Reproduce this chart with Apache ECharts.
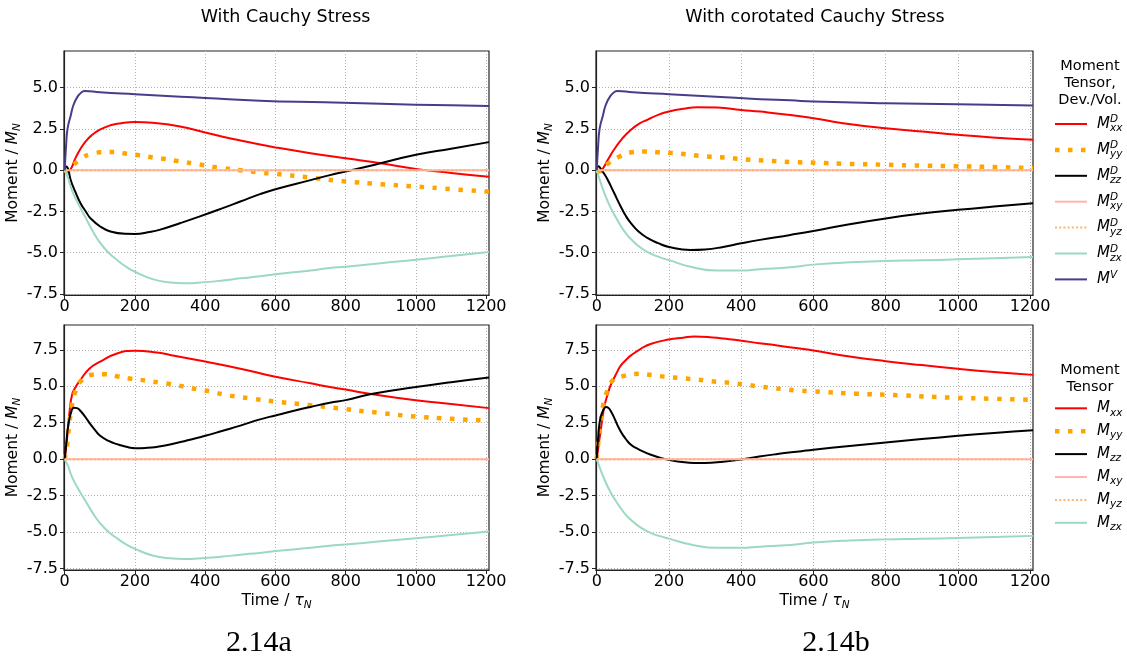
<!DOCTYPE html>
<html><head><meta charset="utf-8">
<script src="https://cdn.jsdelivr.net/npm/echarts@6/dist/echarts.min.js"></script>
<style>html,body{margin:0;padding:0;background:#fff}#c{width:1127px;height:660px}</style>
</head><body><div id="c"></div><script>
// ---------- tick labels ----------
const TIME_TICKS = [0, 200, 400, 600, 800, 1000, 1200];
const Y_TICKS_TOP = [-7.5, -5, -2.5, 0, 2.5, 5];
const Y_TICKS_BOTTOM = [-7.5, -5, -2.5, 0, 2.5, 5, 7.5];

// ---------- categories / names ----------
const PANEL_TITLES = ['With Cauchy Stress', 'With corotated Cauchy Stress'];
const CAPTIONS = ['2.14a', '2.14b'];
const DEV_NAMES = ['MxxD', 'MyyD', 'MzzD', 'MxyD', 'MyzD', 'MzxD', 'MV'];
const FULL_NAMES = ['Mxx', 'Myy', 'Mzz', 'Mxy', 'Myz', 'Mzx'];
const DEV_LABELS = ['{m|M}{p|D}{b|xx}', '{m|M}{p|D}{b|yy}', '{m|M}{p|D}{b|zz}', '{m|M}{p|D}{b|xy}', '{m|M}{p|D}{b|yz}', '{m|M}{p|D}{b|zx}', '{m|M}{q|V}'];
const FULL_LABELS = ['{m|M}{b|xx}', '{m|M}{b|yy}', '{m|M}{b|zz}', '{m|M}{b|xy}', '{m|M}{b|yz}', '{m|M}{b|zx}'];
const DEV_LEGEND_TITLE = 'Moment\nTensor,\nDev./Vol.';
const FULL_LEGEND_TITLE = 'Moment\nTensor';

// ---------- series values [time, moment] ----------
// Top-left: Cauchy, deviatoric / volumetric
const cauchyDevMxx = [[0,0],[8,-0.1],[17,0.05],[30,0.7],[45,1.3],[60,1.75],[75,2.08],[100,2.45],[130,2.72],[160,2.85],[200,2.92],[250,2.88],[300,2.75],[350,2.55],[400,2.28],[450,2.03],[500,1.8],[556,1.56],[600,1.38],[700,1.03],[800,0.72],[900,0.42],[1000,0.08],[1100,-0.17],[1208,-0.4]];
const cauchyDevMyy = [[0,0],[8,-0.08],[20,0.22],[38,0.56],[55,0.82],[70,0.95],[100,1.08],[140,1.1],[177,1.0],[212,0.9],[250,0.77],[285,0.68],[320,0.56],[385,0.34],[450,0.12],[500,0.0],[556,-0.14],[600,-0.22],[700,-0.45],[770,-0.62],[800,-0.68],[900,-0.85],[1000,-0.99],[1100,-1.15],[1208,-1.3]];
const cauchyDevMzz = [[0,0],[5,0.22],[10,0.05],[17,-0.59],[30,-1.3],[45,-2.0],[60,-2.5],[73,-2.9],[101,-3.41],[130,-3.71],[172,-3.85],[201,-3.86],[240,-3.75],[272,-3.6],[330,-3.2],[385,-2.8],[450,-2.3],[500,-1.9],[556,-1.45],[600,-1.15],[700,-0.6],[755,-0.3],[800,-0.08],[880,0.32],[1000,0.93],[1100,1.3],[1208,1.7]];
const cauchyMzx = [[0,0],[10,-0.5],[17,-0.99],[26,-1.49],[45,-2.3],[60,-2.9],[80,-3.7],[101,-4.4],[125,-5.0],[150,-5.45],[175,-5.85],[200,-6.15],[250,-6.6],[300,-6.8],[340,-6.85],[400,-6.78],[450,-6.68],[500,-6.55],[556,-6.43],[600,-6.3],[700,-6.08],[755,-5.93],[800,-5.85],[900,-5.63],[1000,-5.43],[1100,-5.2],[1208,-4.96]];
const cauchyMV = [[0,0],[4,1.5],[8,2.5],[17,3.3],[25,3.95],[38,4.5],[50,4.75],[57,4.8],[100,4.72],[200,4.6],[330,4.45],[400,4.38],[556,4.21],[740,4.11],[900,4.02],[1000,3.97],[1100,3.93],[1208,3.89]];
// Top-right: corotated Cauchy, deviatoric / volumetric
const corotDevMxx = [[0,0],[8,-0.1],[17,0.1],[30,0.6],[48,1.25],[70,1.9],[94,2.44],[120,2.85],[140,3.05],[170,3.35],[200,3.55],[240,3.72],[279,3.82],[334,3.8],[400,3.65],[452,3.55],[536,3.35],[600,3.15],[682,2.85],[800,2.54],[902,2.34],[1000,2.14],[1095,1.98],[1208,1.84]];
const corotDevMyy = [[0,0],[8,-0.08],[15,0.1],[30,0.38],[62,0.82],[98,1.09],[135,1.13],[172,1.08],[209,1.04],[246,0.97],[282,0.88],[315,0.82],[352,0.77],[389,0.7],[425,0.63],[462,0.58],[536,0.5],[605,0.45],[700,0.38],[800,0.33],[900,0.28],[1000,0.24],[1100,0.19],[1208,0.13]];
const corotDevMzz = [[0,0],[5,0.24],[12,0.05],[20,-0.2],[30,-0.56],[48,-1.37],[66,-2.18],[80,-2.75],[94,-3.19],[115,-3.7],[140,-4.1],[170,-4.42],[200,-4.65],[260,-4.83],[300,-4.8],[350,-4.65],[400,-4.43],[452,-4.22],[536,-3.92],[600,-3.68],[700,-3.27],[800,-2.92],[900,-2.63],[1000,-2.4],[1100,-2.2],[1208,-2.0]];
const corotMzx = [[0,0],[11,-0.75],[25,-1.6],[39,-2.3],[50,-2.75],[66,-3.35],[80,-3.8],[94,-4.15],[122,-4.7],[149,-5.05],[175,-5.28],[200,-5.45],[260,-5.85],[334,-6.08],[400,-6.08],[452,-6.0],[536,-5.88],[600,-5.72],[700,-5.58],[800,-5.5],[900,-5.46],[1000,-5.4],[1100,-5.33],[1208,-5.26]];
const corotMV = [[0,0],[4,1.5],[8,2.5],[17,3.3],[25,3.95],[38,4.5],[50,4.75],[57,4.8],[100,4.72],[200,4.6],[330,4.45],[452,4.3],[536,4.23],[600,4.16],[800,4.06],[1000,4.0],[1208,3.92]];
// Bottom-left: Cauchy, full tensor
const cauchyMxx = [[0,0],[7,1.5],[14,3.3],[21,4.42],[30,4.9],[45,5.44],[70,6.2],[101,6.69],[149,7.25],[201,7.44],[262,7.32],[300,7.15],[400,6.69],[500,6.2],[556,5.89],[600,5.65],[700,5.2],[755,4.95],[800,4.77],[877,4.45],[1000,4.04],[1100,3.78],[1208,3.5]];
const cauchyMyy = [[0,0],[7,1.0],[14,2.6],[21,3.74],[30,4.6],[45,5.33],[78,5.79],[114,5.83],[151,5.67],[189,5.51],[229,5.4],[267,5.26],[300,5.15],[338,4.99],[376,4.8],[412,4.65],[450,4.45],[485,4.3],[523,4.18],[600,3.95],[700,3.7],[777,3.49],[891,3.19],[1000,2.92],[1100,2.77],[1208,2.64]];
const cauchyMzz = [[0,0],[5,1.2],[10,2.3],[18,3.2],[26,3.53],[35,3.5],[45,3.3],[60,2.85],[73,2.4],[87,1.98],[101,1.6],[125,1.25],[149,1.03],[175,0.85],[201,0.75],[230,0.77],[262,0.84],[300,1.0],[350,1.3],[400,1.6],[450,1.95],[500,2.3],[556,2.73],[600,3.0],[650,3.3],[700,3.58],[755,3.87],[800,4.05],[877,4.49],[1000,4.95],[1100,5.28],[1208,5.6]];
// Bottom-right: corotated Cauchy, full tensor
const corotMxx = [[0,0],[5,0.9],[11,1.98],[20,3.5],[25,4.0],[34,4.75],[39,5.1],[57,6.0],[66,6.4],[85,6.9],[94,7.1],[122,7.57],[149,7.9],[199,8.2],[240,8.33],[270,8.41],[307,8.38],[350,8.27],[397,8.14],[450,7.95],[500,7.8],[567,7.57],[600,7.45],[700,7.04],[800,6.72],[900,6.45],[1000,6.2],[1100,5.98],[1208,5.78]];
const corotMyy = [[0,0],[4,1.05],[11,2.4],[18,3.74],[28,4.6],[44,5.38],[78,5.73],[115,5.85],[152,5.77],[187,5.66],[224,5.58],[261,5.5],[298,5.41],[332,5.31],[368,5.24],[405,5.13],[442,5.01],[477,4.9],[513,4.81],[548,4.72],[600,4.65],[717,4.49],[838,4.38],[980,4.22],[1100,4.14],[1208,4.07]];
const corotMzz = [[0,0],[5,1.8],[11,2.9],[20,3.45],[26,3.58],[33,3.5],[40,3.25],[50,2.75],[60,2.2],[70,1.75],[80,1.4],[94,1.0],[110,0.75],[122,0.6],[150,0.3],[175,0.1],[200,-0.05],[230,-0.17],[270,-0.26],[300,-0.26],[350,-0.17],[400,-0.02],[450,0.18],[500,0.35],[567,0.55],[600,0.65],[700,0.91],[800,1.14],[900,1.38],[1000,1.6],[1100,1.8],[1208,1.98]];
// Off-diagonal xy / yz components (zero throughout)
const zeroMxy = [[0,0],[1208,0]];
const zeroMyz = [[0,0],[1208,0]];

// ---------- styles ----------
const FONT = 'DejaVu Sans';
const STYLES = [
  {color:'#ff0000', width:2},
  {color:'#ffa500', width:4.5, type:[4.5,8.5]},
  {color:'#000000', width:2},
  {color:'#ffb3b3', width:2},
  {color:'#ffb46e', width:2, type:[2,2.2]},
  {color:'#9dd9bf', width:2},
  {color:'#483d8b', width:2}
];

const panelData = [
  [cauchyDevMxx, cauchyDevMyy, cauchyDevMzz, zeroMxy, zeroMyz, cauchyMzx, cauchyMV],
  [corotDevMxx, corotDevMyy, corotDevMzz, zeroMxy, zeroMyz, corotMzx, corotMV],
  [cauchyMxx, cauchyMyy, cauchyMzz, zeroMxy, zeroMyz, cauchyMzx],
  [corotMxx, corotMyy, corotMzz, zeroMxy, zeroMyz, corotMzx]
];
const panelNames = [DEV_NAMES, DEV_NAMES, FULL_NAMES, FULL_NAMES];

const grids = [
  {left:64, top:51, width:425, height:244},
  {left:596, top:51, width:437, height:244},
  {left:64, top:325, width:425, height:245},
  {left:596, top:325, width:437, height:245}
];
const yRanges = [[-7.56, 7.22], [-7.56, 7.22], [-7.6, 9.2], [-7.6, 9.2]];

const axisLineStyle = {color:'#222', width:1.2};
const splitStyle = {color:'#b4b4b4', width:1, type:[1,2]};

const nameRich = {
  n:{fontFamily:FONT, fontSize:15.5, color:'#000', lineHeight:20},
  i:{fontFamily:FONT, fontSize:15.5, fontStyle:'italic', color:'#000', lineHeight:20},
  s:{fontFamily:FONT, fontSize:10.5, fontStyle:'italic', color:'#000', lineHeight:12, verticalAlign:'bottom'}
};

const xAxes = grids.map((g, i) => ({
  type:'value', gridIndex:i, min:-2, max:1208,
  name: i >= 2 ? '{n|Time / }{i|τ}{s|N}' : '',
  nameLocation:'middle', nameGap:21,
  nameTextStyle:{rich:nameRich},
  axisLine:{show:true, onZero:false, lineStyle:axisLineStyle},
  axisTick:{show:true, length:4, customValues:TIME_TICKS, lineStyle:{color:'#222', width:1}},
  axisLabel:{customValues:TIME_TICKS, fontFamily:FONT, fontSize:16, color:'#000', margin:4, formatter:v => String(v)},
  splitLine:{show:true, lineStyle:splitStyle}
}));
const yAxes = grids.map((g, i) => {
  const ticks = i >= 2 ? Y_TICKS_BOTTOM : Y_TICKS_TOP;
  return {
    type:'value', gridIndex:i, min:yRanges[i][0], max:yRanges[i][1],
    name:'{n|Moment / }{i|M}{s|N}', nameLocation:'middle', nameGap:35, nameRotate:90,
    nameTextStyle:{rich:nameRich},
    axisLine:{show:true, onZero:false, lineStyle:axisLineStyle},
    axisTick:{show:true, length:4, customValues:ticks, lineStyle:{color:'#222', width:1}},
    axisLabel:{customValues:ticks, fontFamily:FONT, fontSize:16, color:'#000', margin:6, formatter:v => v.toFixed(1)},
    splitLine:{show:true, lineStyle:splitStyle}
  };
});

const series = [];
panelData.forEach((list, p) => {
  list.forEach((d, k) => {
    const st = STYLES[k];
    series.push({
      type:'line', name:panelNames[p][k], xAxisIndex:p, yAxisIndex:p,
      data:d, symbol:'none', smooth:0.5, silent:true, animation:false,
      lineStyle:{color:st.color, width:st.width, type:st.type || 'solid', cap:'butt', join:'round'},
      itemStyle:{color:st.color}
    });
  });
});

// ---------- legends (drawn as graphics) ----------
const legendRich = {
  m:{fontFamily:FONT, fontSize:15, fontStyle:'italic', color:'#000', lineHeight:20},
  p:{fontFamily:FONT, fontSize:10.5, fontStyle:'italic', color:'#000', lineHeight:11, verticalAlign:'top', width:0},
  q:{fontFamily:FONT, fontSize:10.5, fontStyle:'italic', color:'#000', lineHeight:11, verticalAlign:'top'},
  b:{fontFamily:FONT, fontSize:10.5, fontStyle:'italic', color:'#000', lineHeight:11, verticalAlign:'bottom'}
};
const graphics = [];
function addLegend(title, titleTop, labels, firstY, pitch) {
  graphics.push({type:'text', x:1090, y:titleTop, silent:true,
    style:{text:title, fill:'#000', font:'14.5px "DejaVu Sans"', align:'center', verticalAlign:'top', lineHeight:17}});
  labels.forEach((lab, k) => {
    const st = STYLES[k];
    const y = firstY + k * pitch;
    graphics.push({type:'line', silent:true, shape:{x1:1055, y1:y, x2:1087, y2:y},
      style:{stroke:st.color, lineWidth:st.width, lineDash:st.type || null, lineCap:'butt'}});
    graphics.push({type:'text', x:1097, y:y, silent:true,
      style:{text:lab, rich:legendRich, fill:'#000', align:'left', verticalAlign:'middle'}});
  });
}
addLegend(DEV_LEGEND_TITLE, 58, DEV_LABELS, 124, 25.9);
addLegend(FULL_LEGEND_TITLE, 362, FULL_LABELS, 408.3, 22.9);

const chart = echarts.init(document.getElementById('c'), null, {renderer:'canvas'});
chart.setOption({
  animation:false,
  backgroundColor:'#fff',
  textStyle:{fontFamily:FONT},
  title:[
    {text:PANEL_TITLES[0], left:285.5, top:7, textAlign:'center', padding:0, textStyle:{fontFamily:FONT, fontSize:17.5, fontWeight:'normal', color:'#000', lineHeight:20}},
    {text:PANEL_TITLES[1], left:815, top:7, textAlign:'center', padding:0, textStyle:{fontFamily:FONT, fontSize:17.5, fontWeight:'normal', color:'#000', lineHeight:20}},
    {text:CAPTIONS[0], left:259, top:626, textAlign:'center', padding:0, textStyle:{fontFamily:'Liberation Serif', fontSize:30, fontWeight:'normal', color:'#000', lineHeight:34}},
    {text:CAPTIONS[1], left:836, top:626, textAlign:'center', padding:0, textStyle:{fontFamily:'Liberation Serif', fontSize:30, fontWeight:'normal', color:'#000', lineHeight:34}}
  ],
  grid:grids.map(g => Object.assign({show:true, borderColor:'#222', borderWidth:1.2, backgroundColor:'#fff', containLabel:false}, g)),
  xAxis:xAxes,
  yAxis:yAxes,
  series:series,
  graphic:{elements:graphics}
});
</script></body></html>
